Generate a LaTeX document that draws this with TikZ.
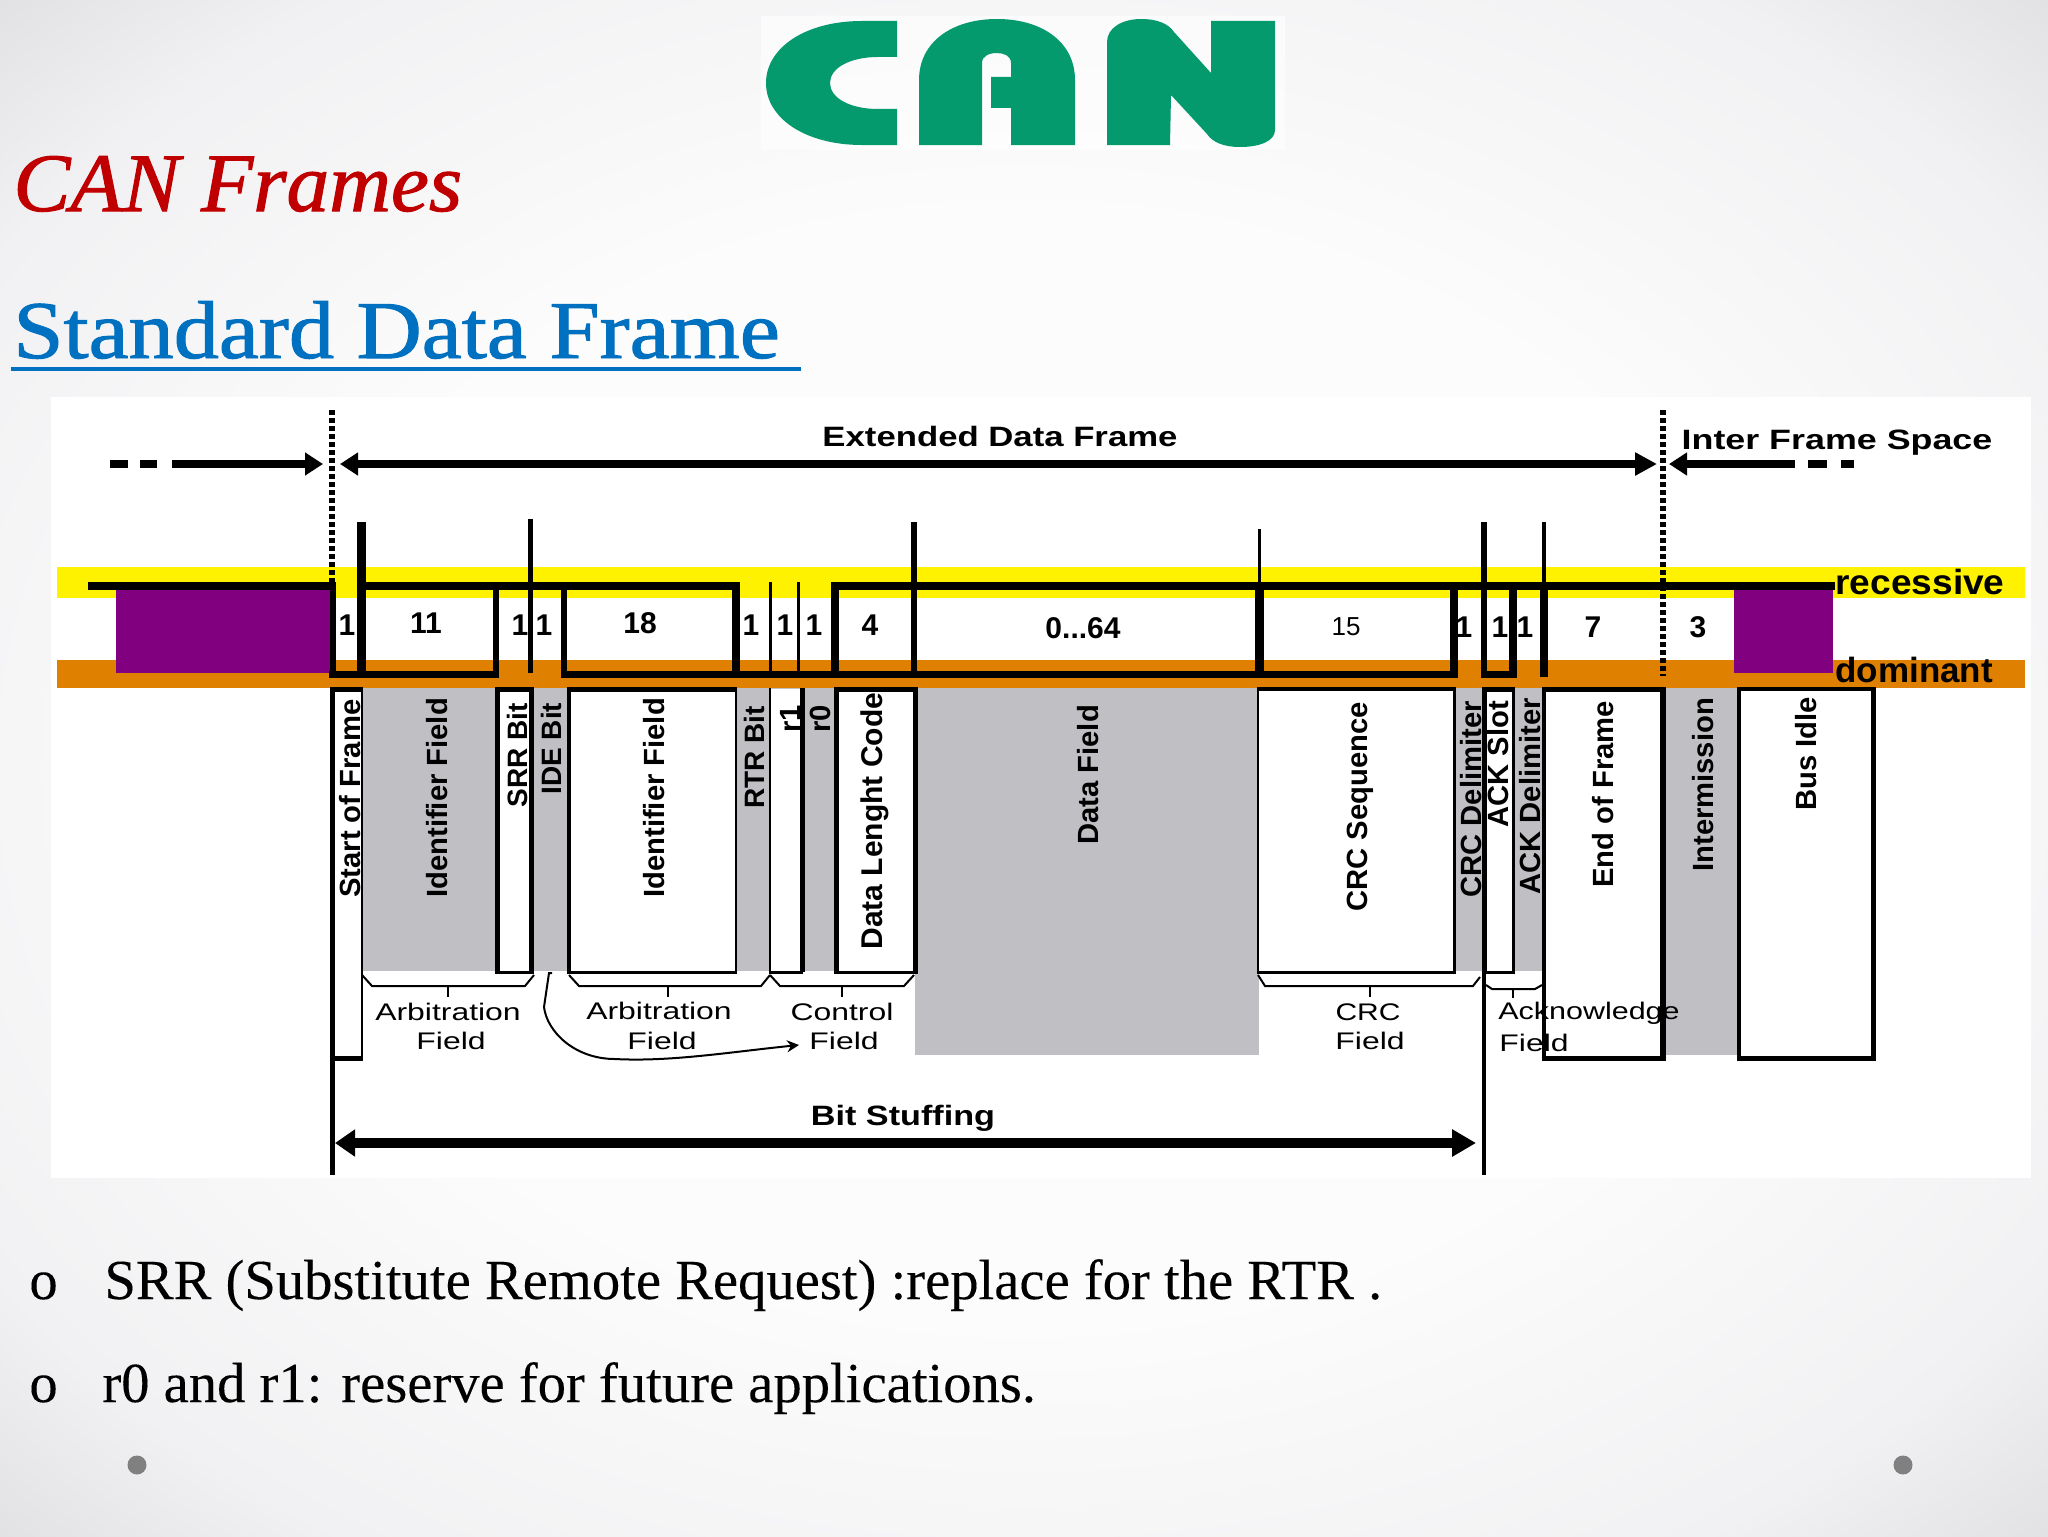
\documentclass[tikz,border=0pt]{standalone}
\usepackage{graphicx}
\usepackage{fontspec}
\setmainfont{Liberation Serif}
\newfontfamily\arialf{Liberation Sans}
\newfontfamily\medserif[FakeBold=1.2]{Liberation Serif}
\newfontfamily\textserif[FakeBold=0.15]{Liberation Serif}
\usetikzlibrary{arrows.meta}
\definecolor{cornergrey}{HTML}{C2C3C7}
\definecolor{edgegrey}{HTML}{E0E0E3}
\definecolor{midgrey}{HTML}{F1F1F3}
\definecolor{softwhite}{HTML}{FCFCFC}
\definecolor{panelgrey}{HTML}{C0C0C4}
\definecolor{bandorange}{HTML}{E08000}
\definecolor{purp}{HTML}{800080}
\definecolor{logogreen}{HTML}{059A6D}
\definecolor{titlered}{HTML}{C00000}
\definecolor{titleblue}{HTML}{0070C0}
\pgfdeclareradialshading{canvasbg}{\pgfpoint{0bp}{0bp}}{color(0bp)=(softwhite);color(18bp)=(softwhite);color(30bp)=(midgrey);color(36bp)=(edgegrey);color(50bp)=(cornergrey)}
\newcommand\fsz[1]{\fontsize{#1}{#1}\selectfont}
\newcommand\hs[2][1.22]{\scalebox{#1}[1]{#2}}
% white box below the signal: l r bottom  wl wr wt wb (px)
\newcommand\lbox[7]{%
  \fill[white] (#1,689) rectangle (#2,#3);
  \draw[line width=#4*0.5pt] (#1,687) -- (#1,#3);
  \draw[line width=#5*0.5pt] (#2,687) -- (#2,#3);
  \draw[line width=#6*0.5pt] ({#1-#4/2},689) -- ({#2+#5/2},689);
  \draw[line width=#7*0.5pt] ({#1-#4/2},#3) -- ({#2+#5/2},#3);
}
\newcommand\vlab[5][14.6]{\node (#2) [vlabel,font=\arialf\bfseries\fsz{#1}] at (#3,#4) {#5};}
\newcommand\thinlab[4]{\node (#1) [thinlabel] at (#2,#3) {\hs[1.33]{#4}};}
\tikzset{
  vlabel/.style={rotate=90,anchor=west,inner sep=0pt,text height=10.8pt,text depth=0pt},
  thinlabel/.style={inner sep=0pt,font=\arialf\fsz{12}},
  boldlabel/.style={inner sep=0pt,font=\arialf\bfseries\fsz{14}},
  digit/.style={inner sep=0pt,font=\arialf\bfseries\fsz{15}},
  rail/.style={line width=3.8pt},
  lowrail/.style={line width=3.5pt},
  dotline/.style={line width=2.7pt,dash pattern=on 2.3pt off 1.7pt},
  framearrow/.style={line width=3.8pt,-{Triangle[length=9pt,width=11pt]}},
  stuffarrow/.style={line width=5pt,{Triangle[length=10pt,width=13pt]}-{Triangle[length=12pt,width=13pt]}},
  bracket/.style={line width=1pt},
  titletext/.style={inner sep=0pt,anchor=base west},
  bodytext/.style={inner sep=0pt,anchor=base west,font=\textserif\fsz{28.3}},
}
\begin{document}
\begin{tikzpicture}[x=0.5pt,y=-0.5pt]
\useasboundingbox (0,0) rectangle (2048,1536);
\shade[shading=canvasbg] (0,0) rectangle (2048,1536);
% logo
\fill[white,fill opacity=0.6] (761,16) rectangle (1285,150);
\begin{scope}[fill=logogreen]
\fill (897,21) -- (862,21) .. controls (805,21) and (766,48) .. (766,83) .. controls (766,118) and (805,145) .. (862,145) -- (897,145) -- (897,109) -- (878,109) .. controls (850,109) and (830,98) .. (830,83) .. controls (830,68) and (850,57) .. (878,57) -- (897,57) -- cycle;
\fill (919,145) -- (919,80) .. controls (919,42) and (952,19) .. (997,19) .. controls (1042,19) and (1075,42) .. (1075,80) -- (1075,145) -- (1011,145) -- (1011,108) -- (991,108) -- (991,77) -- (1011,77) -- (1011,63) .. controls (1011,56) and (1004,53) .. (997,53) .. controls (989,53) and (982,56) .. (982,63) -- (982,145) -- cycle;
\fill (1107,145) -- (1107,42) .. controls (1107,28) and (1122,19) .. (1141,19) .. controls (1156,19) and (1168,23) .. (1174,32) -- (1211,73) -- (1211,21) -- (1275,21) -- (1275,130) .. controls (1275,141) and (1260,147) .. (1240,147) .. controls (1225,147) and (1213,143) .. (1207,134) -- (1171,95) -- (1170,145) -- cycle;
\end{scope}
% titles
\node (title1) [titletext,text=titlered,font=\medserif\itshape\fsz{41.5}] at (13,211) {\scalebox{1.03}[1]{CAN Frames}};
\node (title2) [titletext,text=titleblue,font=\medserif\fsz{41}] at (13,358) {\scalebox{1.10}[1]{Standard Data Frame}};
\fill[titleblue] (11,367) rectangle (801,371);
% panel
\fill[white] (51,397) rectangle (2031,1178);
\fill[yellow] (57,567) rectangle (2025,598);
\fill[bandorange] (57,660) rectangle (2025,688);
\fill[purp] (116,588) rectangle (330,673);
\fill[purp] (1734,588) rectangle (1833,673);
% grey fields
\fill[panelgrey] (362,688) rectangle (569,971);
\fill[panelgrey] (736,688) rectangle (836,971);
\fill[panelgrey] (915,688) rectangle (1259,1055);
\fill[panelgrey] (1454,688) rectangle (1544,971);
\fill[panelgrey] (1663,688) rectangle (1739,1055);
% lower boxes
\fill[white] (332,689) rectangle (362,1058);
\draw[line width=2.5pt] (332,687) -- (332,1175);
\draw[line width=1pt] (362,687) -- (362,1058);
\draw[line width=2.5pt] (330,689) -- (363,689);
\draw[line width=2.5pt] (330,1058) -- (363,1058);
\lbox{497}{531}{972}{5}{5}{5}{3}
\lbox{569}{736}{972}{4}{2.5}{5}{3}
\fill[white] (770,689) rectangle (802,972);
\draw[line width=1pt] (770,688) -- (770,972);
\draw[line width=2.5pt] (802,688) -- (802,972);
\draw[line width=1.5pt] (769,972) -- (803,972);
\lbox{836}{915}{972}{5}{5}{5}{3}
\lbox{1258}{1454}{972}{2.5}{3}{4}{3}
\lbox{1484}{1513}{972}{5}{3}{5}{3}
\lbox{1544}{1663}{1058}{4}{6}{5}{5}
\lbox{1739}{1873}{1058}{4}{5}{4}{5}
\draw[line width=2pt] (1484,970) -- (1484,1175);
% signal rails
\draw[rail] (88,586) -- (336,586);
\draw[rail] (359,586) -- (740,586);
\draw[rail] (831,586) -- (1835,586);
\draw[lowrail] (329,674.5) -- (499,674.5);
\draw[lowrail] (561,674.5) -- (1458,674.5);
\draw[lowrail] (1481,674.5) -- (1517,674.5);
% signal edges
\draw[line width=3pt] (333,584) -- (333,677);
\draw[line width=4.5pt] (361,522) -- (361,677);
\draw[line width=3pt] (496,586) -- (496,677);
\draw[line width=2.5pt] (530,519) -- (530,673);
\draw[line width=3pt] (564,586) -- (564,677);
\draw[line width=4pt] (736,586) -- (736,677);
\draw[line width=1.5pt] (770,582) -- (770,674);
\draw[line width=1.5pt] (798,582) -- (798,674);
\draw[line width=4pt] (835,582) -- (835,677);
\draw[line width=3pt] (914,522) -- (914,677);
\draw[line width=1.5pt] (1259,529) -- (1259,582);
\draw[line width=4.5pt] (1259,582) -- (1259,677);
\draw[line width=4pt] (1454,586) -- (1454,677);
\draw[line width=2.7pt] (1484,522) -- (1484,677);
\draw[line width=4pt] (1513,586) -- (1513,677);
\draw[line width=2pt] (1544,522) -- (1544,586);
\draw[line width=4pt] (1544,586) -- (1544,677);
% dotted frame limits
\coordinate (sofTop) at (332,410);
\coordinate (sofEnd) at (332,584);
\coordinate (ifsTop) at (1663,410);
\coordinate (ifsEnd) at (1663,676);
\draw[dotline] (sofTop) -- (sofEnd);
\draw[dotline] (ifsTop) -- (ifsEnd);
% frame arrows
\fill (110,460) rectangle (128,468);
\fill (140,460) rectangle (157,468);
\fill (1808,460) rectangle (1827,468);
\fill (1841,460) rectangle (1854,468);
\coordinate (preL) at (172,464);
\coordinate (preR) at (323,464);
\coordinate (extL) at (340,464);
\coordinate (extR) at (1657,464);
\coordinate (ifsL) at (1669,464);
\coordinate (ifsR) at (1795,464);
\draw[framearrow] (preL) -- (preR);
\draw[framearrow,{Triangle[length=9pt,width=11pt]}-{Triangle[length=11pt,width=11pt]}] (extL) -- (extR);
\draw[framearrow] (ifsR) -- (ifsL);
\coordinate (stufL) at (335,1143);
\coordinate (stufR) at (1476,1143);
\draw[stuffarrow] (stufL) -- (stufR);
% headers
\node (extLabel) [boldlabel] at (1000,436) {\hs[1.24]{Extended Data Frame}};
\node (ifsLabel) [boldlabel] at (1837,443) {\hs[1.28]{Inter Frame Space}};
\node (stufLabel) [boldlabel] at (903,1118) {\hs{Bit Stuffing}};
\node (recLabel) [inner sep=0pt,anchor=base west,font=\arialf\bfseries\fsz{17.5}] at (1835,594) {\scalebox{1.06}[1]{recessive}};
\node (domLabel) [inner sep=0pt,anchor=base west,font=\arialf\bfseries\fsz{17.5}] at (1835,682) {dominant};
% bit counts
\node (d1) [digit] at (347,625) {1};
\node (d2) [digit] at (426,623) {11};
\node (d3) [digit] at (520,625) {1};
\node (d4) [digit] at (544,625) {1};
\node (d5) [digit] at (640,623) {18};
\node (d6) [digit] at (751,625) {1};
\node (d7) [digit] at (785,625) {1};
\node (d8) [digit] at (814,625) {1};
\node (d9) [digit] at (870,625) {4};
\node (d10) [digit] at (1083,628) {0...64};
\node (d11) [inner sep=0pt,font=\arialf\fsz{13}] at (1346,627) {15};
\node (d12) [digit] at (1464,627) {1};
\node (d13) [digit] at (1500,627) {1};
\node (d14) [digit] at (1525,627) {1};
\node (d15) [digit] at (1593,627) {7};
\node (d16) [digit] at (1698,627) {3};
% vertical labels
\vlab{vSof}{350}{898}{Start of Frame}
\vlab{vId}{437}{898}{Identifier Field}
\vlab[14]{vSrr}{517}{808}{SRR Bit}
\vlab[14]{vIde}{551}{795}{IDE Bit}
\vlab{vIdb}{654}{898}{Identifier Field}
\vlab[14]{vRtr}{754}{809}{RTR Bit}
\vlab{vRa}{790}{733}{r1}
\vlab{vRb}{820}{733}{r0}
\vlab[15]{vDlc}{872}{950}{Data Lenght Code}
\vlab{vData}{1088}{845}{Data Field}
\vlab{vCrc}{1357}{912}{CRC Sequence}
\vlab{vCrd}{1471}{898}{CRC Delimiter}
\vlab{vAck}{1498}{828}{ACK Slot}
\vlab{vAcd}{1530}{895}{ACK Delimiter}
\vlab{vEof}{1603}{888}{End of Frame}
\vlab{vInt}{1703}{872}{Intermission}
\vlab{vIdle}{1806}{811}{Bus Idle}
% field labels
\thinlab{fArbA}{448}{1012}{Arbitration}
\thinlab{fArbB}{451}{1041}{Field}
\thinlab{fArbC}{659}{1011}{Arbitration}
\thinlab{fArbD}{662}{1041}{Field}
\thinlab{fCtrl}{842}{1012}{Control}
\node (fCtrlF) [thinlabel,inner xsep=5pt] at (844,1041) {\hs[1.33]{Field}};
\node (fCrc) [thinlabel] at (1368,1012) {\hs[1.25]{CRC}};
\thinlab{fCrcF}{1370}{1041}{Field}
\node (fAck) [thinlabel] at (1589,1013) {\hs[1.27]{Acknowledge}};
\thinlab{fAckF}{1534}{1043}{Field}
% braces
\draw[bracket] (362,975) -- (372,986) -- (525,986) -- (534,975);
\draw[bracket] (448,986) -- (448,997);
\draw[bracket] (569,975) -- (579,986) -- (761,986) -- (770,975);
\draw[bracket] (668,986) -- (668,997);
\draw[bracket] (770,975) -- (780,986) -- (904,986) -- (914,975);
\draw[bracket] (842,986) -- (842,997);
\draw[bracket] (1258,975) -- (1265,986) -- (1473,986) -- (1480,977);
\draw[bracket] (1370,986) -- (1370,997);
\draw[bracket] (1486,985) -- (1492,989) -- (1535,989) -- (1542,985);
\draw[bracket] (1513,989) -- (1513,998);
% curved pointer from the second arbitration field to the control field
\coordinate (curveStart) at (552,973);
\draw[bracket,-{Stealth[length=6pt,width=6pt]}] (curveStart) -- (549,973) -- (544,1007) .. controls (547,1032) and (575,1059) .. (615,1059) .. controls (670,1062) and (730,1052) .. ([yshift=-2pt]fCtrlF.west);
% bullets
\node (b1) [bodytext] at (29,1299) {o};
\node (t1) [bodytext] at (104,1299) {SRR (Substitute Remote Request) :replace for the RTR .};
\node (b2) [bodytext] at (29,1402) {o};
\node (t2) [bodytext] at (102,1402) {r0 and r1: reserve for future applications.};
\fill[gray] (137,1465) circle (9.5);
\fill[gray] (1903,1465) circle (9.5);
\end{tikzpicture}
\end{document}
